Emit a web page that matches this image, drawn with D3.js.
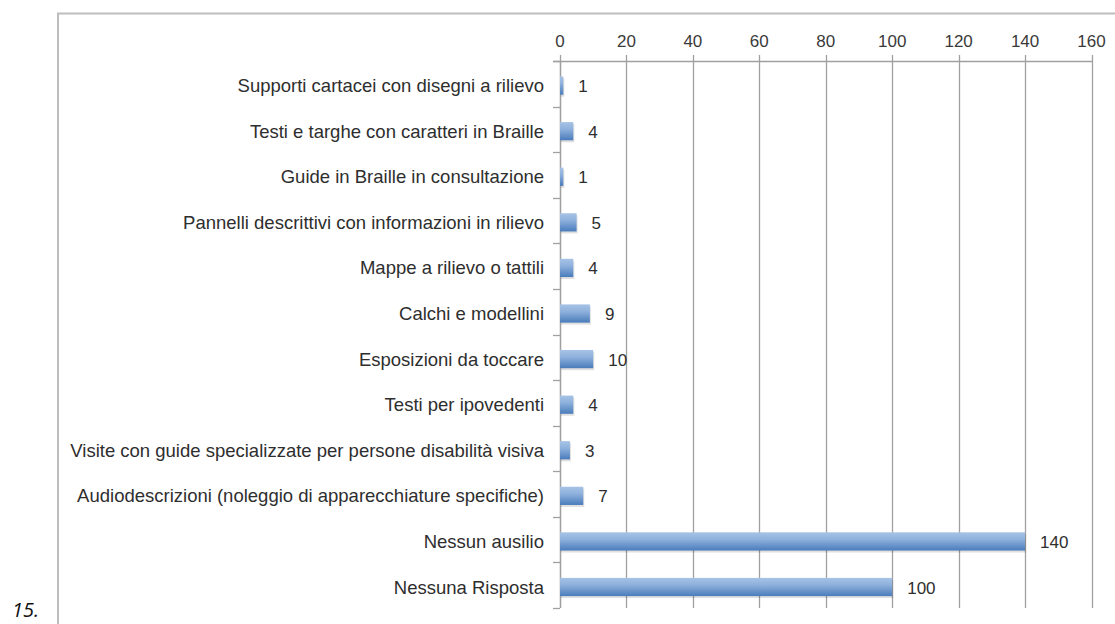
<!DOCTYPE html>
<html><head><meta charset="utf-8">
<script src="https://cdn.jsdelivr.net/npm/d3@7"></script>
<style>body{margin:0;background:#fff}svg{display:block}</style>
</head><body>
<script>
const categories = [
  "Supporti cartacei con disegni a rilievo",
  "Testi e targhe con caratteri in Braille",
  "Guide in Braille in consultazione",
  "Pannelli descrittivi con informazioni in rilievo",
  "Mappe a rilievo o tattili",
  "Calchi e modellini",
  "Esposizioni da toccare",
  "Testi per ipovedenti",
  "Visite con guide specializzate per persone disabilità visiva",
  "Audiodescrizioni (noleggio di apparecchiature specifiche)",
  "Nessun ausilio",
  "Nessuna Risposta"
];
const values = [1, 4, 1, 5, 4, 9, 10, 4, 3, 7, 140, 100];
const tickValues = [0, 20, 40, 60, 80, 100, 120, 140, 160];

const W = 1115, H = 624;
const svg = d3.select("body").append("svg").attr("width", W).attr("height", H);

const defs = svg.append("defs");
const grad = defs.append("linearGradient").attr("id", "bg").attr("x1", 0).attr("y1", 0).attr("x2", 0).attr("y2", 1);
grad.append("stop").attr("offset", "0%").attr("stop-color", "#a7c3e6");
grad.append("stop").attr("offset", "40%").attr("stop-color", "#8db0dc");
grad.append("stop").attr("offset", "100%").attr("stop-color", "#4a7cbb");

// frame
svg.append("line").attr("x1", 57).attr("x2", W).attr("y1", 13.5).attr("y2", 13.5).attr("stroke", "#bdbdbd").attr("stroke-width", 2);
svg.append("line").attr("x1", 58).attr("x2", 58).attr("y1", 13).attr("y2", H).attr("stroke", "#bdbdbd").attr("stroke-width", 2);

const x = d3.scaleLinear().domain([0, 160]).range([560, 1091.5]);
const yb = d3.scaleBand().domain(categories).range([61, 608]);
const y = d3.scaleBand().domain(categories).range([61, 608]).paddingInner(0.6).paddingOuter(0.3);
const shift = 1.8;

const font = "Liberation Sans, Arial, sans-serif";
const gridColor = "#a0a0a0";

// gridlines
svg.append("g").selectAll("line").data(tickValues).join("line")
  .attr("x1", d => Math.round(x(d)) + 0.5).attr("x2", d => Math.round(x(d)) + 0.5)
  .attr("y1", 55).attr("y2", 608)
  .attr("stroke", gridColor).attr("stroke-width", 1.3);

// top axis line
svg.append("line").attr("x1", 553).attr("x2", x(160) + 0.5).attr("y1", 61.5).attr("y2", 61.5).attr("stroke", gridColor).attr("stroke-width", 1.3);
// tick labels
svg.append("g").selectAll("text").data(tickValues).join("text")
  .attr("x", d => x(d)).attr("y", 46.5).attr("text-anchor", "middle")
  .attr("font-family", font).attr("font-size", 17).attr("fill", "#3a3a3a")
  .text(d => d);

// y axis line and ticks
svg.append("line").attr("x1", 560.5).attr("x2", 560.5).attr("y1", 61).attr("y2", 608).attr("stroke", gridColor).attr("stroke-width", 1.3);
const bounds = categories.map(c => yb(c)).concat([608]);
svg.append("g").selectAll("line").data(bounds).join("line")
  .attr("x1", 553).attr("x2", 560).attr("y1", d => Math.round(d) + 0.5).attr("y2", d => Math.round(d) + 0.5)
  .attr("stroke", gridColor).attr("stroke-width", 1.3);

// category labels
svg.append("g").selectAll("text").data(categories).join("text")
  .attr("x", 544).attr("y", d => yb(d) + yb.bandwidth() / 2 + shift + 6.5)
  .attr("text-anchor", "end")
  .attr("font-family", font).attr("font-size", 18.5).attr("fill", "#2e2e2e")
  .text(d => d);

// bar shadows
svg.append("g").selectAll("rect").data(values).join("rect")
  .attr("x", x(0) + 1).attr("y", (d, i) => y(categories[i]) + shift + 2)
  .attr("width", d => x(d) - x(0)).attr("height", y.bandwidth())
  .attr("fill", "#000").attr("opacity", 0.12);
// bars
svg.append("g").selectAll("rect").data(values).join("rect")
  .attr("x", x(0)).attr("y", (d, i) => y(categories[i]) + shift)
  .attr("width", d => x(d) - x(0)).attr("height", y.bandwidth())
  .attr("fill", "url(#bg)");

// value labels
svg.append("g").selectAll("text").data(values).join("text")
  .attr("x", d => x(d) + 15).attr("y", (d, i) => yb(categories[i]) + yb.bandwidth() / 2 + shift + 6.5)
  .attr("font-family", font).attr("font-size", 17).attr("fill", "#2e2e2e")
  .text(d => d);

// figure number
svg.append("text").attr("x", 12).attr("y", 617)
  .attr("font-family", "Open Sans, sans-serif").attr("font-style", "italic").attr("font-size", 20).attr("fill", "#111")
  .text("15.");
</script>
</body></html>
